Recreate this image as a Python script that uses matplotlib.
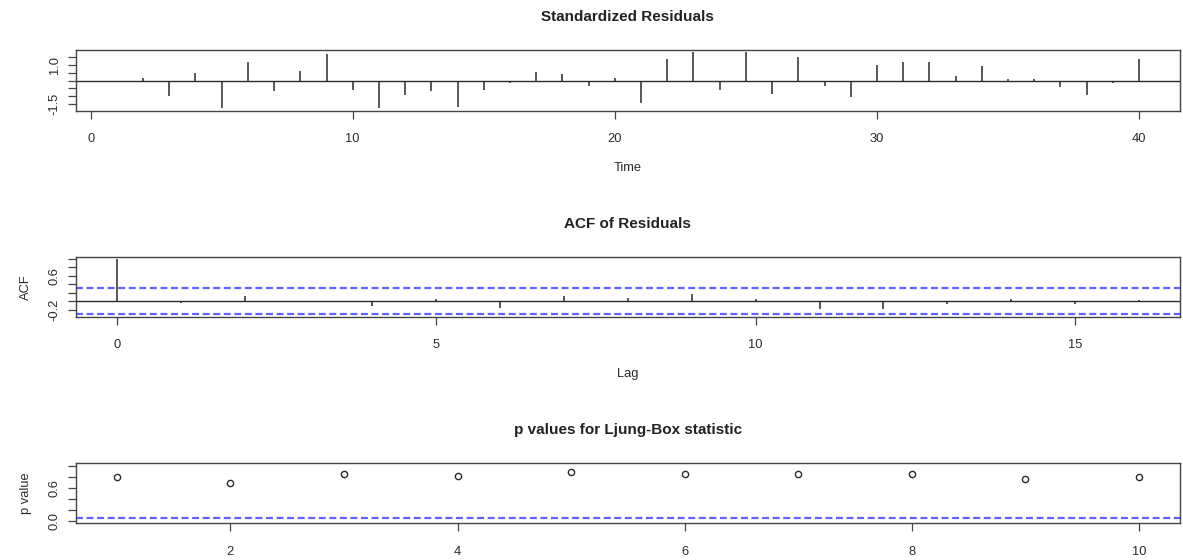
import numpy as np
import matplotlib
matplotlib.use("Agg")
import matplotlib.pyplot as plt

plt.rcParams["font.family"] = ["Liberation Sans", "DejaVu Sans"]
plt.rcParams["lines.scale_dashes"] = False

# standardized residuals, t = 1..40
time = list(range(1, 41))
resid = [-0.06, 0.19, -0.98, 0.47, -1.81, 1.17, -0.70, 0.62, 1.74, -0.60,
         -1.81, -0.91, -0.70, -1.70, -0.60, -0.17, 0.53, 0.40, -0.33, 0.19,
         -1.45, 1.40, 1.83, -0.60, 1.83, -0.85, 1.51, -0.34, -1.06, 1.02,
         1.17, 1.17, 0.30, 0.94, 0.13, 0.13, -0.43, -0.91, -0.13, 1.40]

# ACF of residuals
lags = list(range(0, 17))
acf = [1.0, -0.05, 0.13, 0.01, -0.12, 0.05, -0.16, 0.13, 0.09, 0.18,
       0.06, -0.19, -0.19, -0.06, 0.06, -0.06, 0.03]
clim = 0.31

# Ljung-Box p values
gof_lag = list(range(1, 11))
pval = [0.79, 0.68, 0.84, 0.82, 0.89, 0.84, 0.84, 0.84, 0.75, 0.79]

INK = "#2b2b2b"
BLUE = "#6262ff"
TICK_FS = 9.3
TITLE_FS = 11
DASH = (0, (5, 2.6))


def r_lim(vals):
    lo, hi = min(vals), max(vals)
    pad = 0.04 * (hi - lo)
    return lo - pad, hi + pad


def style(ax, xlabel=None, ylabel=None):
    for s in ax.spines.values():
        s.set_color("#444444")
        s.set_linewidth(1.0)
    ax.tick_params(length=6, width=0.9, color="#444444", labelsize=TICK_FS,
                   labelcolor=INK)
    ax.tick_params(axis="x", pad=10)
    ax.tick_params(axis="y", pad=5)
    for lab in ax.get_yticklabels():
        lab.set_rotation(90)
        lab.set_va("center")
    if xlabel:
        ax.set_xlabel(xlabel, fontsize=TICK_FS, color=INK, labelpad=12)
    if ylabel:
        ax.set_ylabel(ylabel, fontsize=TICK_FS, color=INK, labelpad=12)


fig = plt.figure(figsize=(11.83, 5.6), dpi=100)
L, W = 0.0642, 0.9332

# ---- standardized residuals ----
ax1 = fig.add_axes([L, 0.8023, W, 0.1084])
ax1.vlines(time, 0, resid, color=INK, lw=1.1)
ax1.axhline(0, color=INK, lw=1.0)
ax1.set_xlim(r_lim(time))
ax1.set_ylim(r_lim(resid))
ax1.set_xticks([0, 10, 20, 30, 40])
ax1.set_yticks([-1.5, -1.0, -0.5, 0, 0.5, 1.0, 1.5])
ax1.set_yticklabels(["-1.5", "", "", "", "", "1.0", ""])
ax1.set_title("Standardized Residuals", fontsize=TITLE_FS, fontweight="bold",
              color="#222222", pad=21)
style(ax1, xlabel="Time")

# ---- ACF ----
ax2 = fig.add_axes([L, 0.4345, W, 0.1071])
ax2.vlines(lags, 0, acf, color=INK, lw=1.1)
ax2.axhline(0, color=INK, lw=1.0)
ax2.axhline(clim, color=BLUE, lw=1.6, ls=DASH)
ax2.axhline(-clim, color=BLUE, lw=1.6, ls=DASH)
ax2.set_xlim(r_lim(lags))
ax2.set_ylim(r_lim(acf + [clim, -clim]))
ax2.set_xticks([0, 5, 10, 15])
ax2.set_yticks([-0.2, 0, 0.2, 0.4, 0.6, 0.8, 1.0])
ax2.set_yticklabels(["-0.2", "", "", "", "0.6", "", ""])
ax2.set_title("ACF of Residuals", fontsize=TITLE_FS, fontweight="bold",
              color="#222222", pad=21)
style(ax2, xlabel="Lag", ylabel="ACF")

# ---- Ljung-Box p values ----
ax3 = fig.add_axes([L, 0.0655, W, 0.1071])
ax3.plot(gof_lag, pval, "o", ms=4.5, mfc="none", mec=INK, mew=1.0)
ax3.axhline(0.05, color=BLUE, lw=1.6, ls=DASH)
ax3.set_xlim(r_lim(gof_lag))
ax3.set_ylim(r_lim([0, 1]))
ax3.set_xticks([2, 4, 6, 8, 10])
ax3.set_yticks([0, 0.2, 0.4, 0.6, 0.8, 1.0])
ax3.set_yticklabels(["0.0", "", "", "0.6", "", ""])
ax3.set_title("p values for Ljung-Box statistic", fontsize=TITLE_FS,
              fontweight="bold", color="#222222", pad=21)
style(ax3, ylabel="p value")

fig.savefig("out.png", dpi=100)
